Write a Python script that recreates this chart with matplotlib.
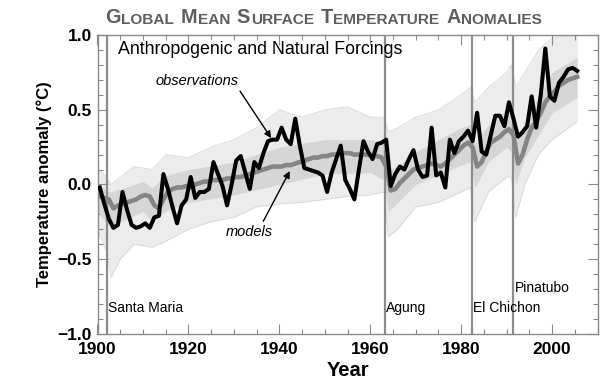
#!/usr/bin/env python3

import numpy as np
import matplotlib
matplotlib.use("Agg")
import matplotlib.pyplot as plt
from matplotlib.ticker import MultipleLocator, FuncFormatter

plt.rcParams['font.family'] = ['Liberation Sans', 'DejaVu Sans']

# DATA
years = np.arange(1900, 2006)

observations = [
    -0.02, -0.13, -0.23, -0.29, -0.27, -0.05, -0.17, -0.27, -0.29, -0.28,
    -0.26, -0.29, -0.22, -0.21, 0.07, -0.03, -0.15, -0.26, -0.14, -0.10,
    0.05, -0.09, -0.05, -0.05, -0.03, 0.15, 0.07, -0.01, -0.14, 0.00,
    0.16, 0.19, 0.08, -0.03, 0.15, 0.11, 0.21, 0.29, 0.30, 0.30,
    0.38, 0.30, 0.27, 0.44, 0.26, 0.11, 0.10, 0.09, 0.08, 0.06,
    -0.05, 0.08, 0.17, 0.26, 0.03, -0.03, -0.10, 0.10, 0.29, 0.22,
    0.17, 0.27, 0.28, 0.30, -0.01, 0.07, 0.12, 0.10, 0.17, 0.23,
    0.10, 0.05, 0.06, 0.38, 0.06, 0.08, -0.02, 0.30, 0.21, 0.29,
    0.32, 0.36, 0.29, 0.48, 0.22, 0.20, 0.33, 0.46, 0.46, 0.39,
    0.55, 0.44, 0.32, 0.35, 0.39, 0.59, 0.38, 0.60, 0.91, 0.59,
    0.56, 0.68, 0.72, 0.77, 0.78, 0.76,
]

model_mean = [
    -0.08, -0.09, -0.10, -0.16, -0.14, -0.13, -0.12, -0.11, -0.10, -0.08,
    -0.07, -0.08, -0.14, -0.16, -0.10, -0.05, -0.03, -0.02, -0.02, -0.01,
    -0.02, 0.00, 0.01, 0.02, 0.02, 0.03, 0.03, 0.03, 0.04, 0.04,
    0.05, 0.05, 0.06, 0.07, 0.08, 0.09, 0.10, 0.11, 0.12, 0.12,
    0.12, 0.13, 0.13, 0.14, 0.15, 0.16, 0.17, 0.18, 0.18, 0.19,
    0.19, 0.20, 0.20, 0.21, 0.21, 0.21, 0.20, 0.20, 0.20, 0.20,
    0.19, 0.19, 0.18, 0.12, -0.04, -0.03, 0.01, 0.04, 0.07, 0.10,
    0.11, 0.12, 0.13, 0.14, 0.13, 0.12, 0.14, 0.17, 0.20, 0.23,
    0.26, 0.28, 0.25, 0.12, 0.15, 0.22, 0.28, 0.30, 0.32, 0.35,
    0.37, 0.33, 0.14, 0.20, 0.30, 0.38, 0.42, 0.48, 0.55, 0.59,
    0.62, 0.66, 0.68, 0.70, 0.71, 0.72,
]

# spread of the model runs (outer envelope and dense core)
env_years = [1900, 1902, 1903, 1905, 1908, 1912, 1915, 1920, 1925, 1930,
             1935, 1940, 1945, 1950, 1955, 1960, 1963, 1964, 1966, 1970,
             1975, 1980, 1982, 1983, 1986, 1990, 1991, 1992, 1994, 1997,
             2000, 2005.5]
env_upper = [0.10, 0.05, 0.00, 0.05, 0.12, 0.10, 0.20, 0.18, 0.25, 0.30,
             0.38, 0.50, 0.45, 0.50, 0.52, 0.45, 0.45, 0.35, 0.38, 0.45,
             0.50, 0.60, 0.65, 0.55, 0.65, 0.75, 0.80, 0.65, 0.75, 0.90,
             0.98, 1.00]
env_lower = [-0.30, -0.45, -0.62, -0.50, -0.40, -0.42, -0.38, -0.30, -0.25, -0.22,
             -0.15, -0.13, -0.12, -0.10, -0.08, -0.07, -0.05, -0.35, -0.30, -0.15,
             -0.12, -0.05, -0.02, -0.25, -0.05, 0.05, 0.05, -0.22, 0.00, 0.20,
             0.30, 0.42]

core_years = [1900, 1903, 1905, 1910, 1912, 1915, 1920, 1930, 1940, 1950,
              1960, 1963, 1964, 1966, 1970, 1980, 1982, 1983, 1986, 1990,
              1991, 1992, 1994, 2000, 2005.5]
core_upper = [0.00, -0.05, -0.03, 0.02, -0.02, 0.06, 0.10, 0.15, 0.25, 0.30,
              0.30, 0.28, 0.10, 0.12, 0.22, 0.38, 0.40, 0.27, 0.40, 0.50,
              0.48, 0.28, 0.42, 0.75, 0.85]
core_lower = [-0.18, -0.30, -0.25, -0.18, -0.25, -0.18, -0.12, -0.07, 0.00, 0.07,
              0.08, 0.03, -0.18, -0.12, 0.00, 0.13, 0.15, -0.02, 0.15, 0.25,
              0.22, 0.00, 0.18, 0.48, 0.58]

volcanoes = ['Santa Maria', 'Agung', 'El Chichon', 'Pinatubo']
eruptions = [1902.1, 1963.2, 1982.3, 1991.5]

title_words = ['Global', 'Mean', 'Surface', 'Temperature', 'Anomalies']


def small_caps(fig, ax, words, x, y, big, small, color):
    """Fake small caps title by chaining text pieces"""
    prev = None
    for w in words:
        for j, (part, size) in enumerate([(w[0], big), (w[1:].upper(), small)]):
            kw = dict(fontsize=size, fontweight='bold', color=color, va='bottom')
            if prev is None:
                prev = fig.text(x, y, part, ha='left', **kw)
            else:
                gap = 4.8 if j == 0 else 0.4
                prev = ax.annotate(part, xy=(1, 0), xycoords=prev,
                                   xytext=(gap, 0), textcoords='offset points',
                                   ha='left', annotation_clip=False, **kw)


def visualize():
    fig = plt.figure(figsize=(6.0, 3.83), dpi=100)
    ax = fig.add_axes([0.1625, 0.128, 0.8335, 0.7806])

    frame = '#8a8a8a'

    # model spread
    ax.fill_between(env_years, env_lower, env_upper, color='#ececec', lw=0, zorder=1)
    ax.plot(env_years, env_upper, color='#d8d8d8', lw=0.6, zorder=1)
    ax.plot(env_years, env_lower, color='#d8d8d8', lw=0.6, zorder=1)
    ax.fill_between(core_years, core_lower, core_upper, color='#d6d6d6', lw=0, zorder=2)

    # volcanic eruptions
    label_y = {'Pinatubo': -0.72}
    for name, yr in zip(volcanoes, eruptions):
        ax.axvline(yr, color='#8c8c8c', lw=1.6, zorder=3)
        ax.text(yr + 0.3, label_y.get(name, -0.85), name, fontsize=10,
                ha='left', va='baseline', zorder=6)

    t = years + 0.5
    ax.plot(t, model_mean, color='#858585', lw=3.3, solid_joinstyle='round', zorder=4)
    ax.plot(t, observations, color='black', lw=2.9, solid_joinstyle='round', zorder=5)

    ax.text(1904.5, 0.905, 'Anthropogenic and Natural Forcings', fontsize=12.8,
            ha='left', va='center', zorder=6)

    ax.annotate('observations', xy=(1938.2, 0.31), xytext=(1921.8, 0.69),
                fontsize=10.5, fontstyle='italic', ha='center', va='center',
                arrowprops=dict(arrowstyle='-|>', color='black', lw=1,
                                mutation_scale=10, relpos=(1.0, 0.0),
                                shrinkA=0, shrinkB=0), zorder=7)
    ax.annotate('models', xy=(1942.3, 0.09), xytext=(1933.4, -0.32),
                fontsize=10.5, fontstyle='italic', ha='center', va='center',
                arrowprops=dict(arrowstyle='-|>', color='black', lw=1,
                                mutation_scale=10, relpos=(0.75, 1.0),
                                shrinkA=1, shrinkB=0), zorder=7)

    ax.set_xlim(1900, 2010)
    ax.set_ylim(-1.0, 1.0)
    ax.xaxis.set_major_locator(MultipleLocator(20))
    ax.xaxis.set_minor_locator(MultipleLocator(5))
    ax.yaxis.set_major_locator(MultipleLocator(0.5))
    ax.yaxis.set_minor_locator(MultipleLocator(0.1))
    ax.yaxis.set_major_formatter(FuncFormatter(
        lambda v, p: ('%.1f' % v).replace('-', '\u2212')))

    ax.tick_params(which='both', direction='in', top=True, right=True,
                   color=frame, width=0.8)
    ax.tick_params(which='major', length=7, labelsize=12.5)
    ax.tick_params(axis='x', which='major', pad=6)
    ax.tick_params(axis='y', which='major', pad=4)
    ax.tick_params(which='minor', length=3.5)
    for lab in ax.get_xticklabels() + ax.get_yticklabels():
        lab.set_fontweight('bold')
    for s in ax.spines.values():
        s.set_color(frame)
        s.set_linewidth(1)

    ax.set_xlabel('Year', fontsize=14.5, fontweight='bold', labelpad=3)
    ax.set_ylabel('Temperature anomaly (\u00b0C)', fontsize=12, fontweight='bold',
                  labelpad=4)

    small_caps(fig, ax, title_words, 0.175, 0.93, 14.3, 11.1, '#5e5e5e')

    fig.savefig('out.png', dpi=100)


if __name__ == "__main__":
    visualize()
